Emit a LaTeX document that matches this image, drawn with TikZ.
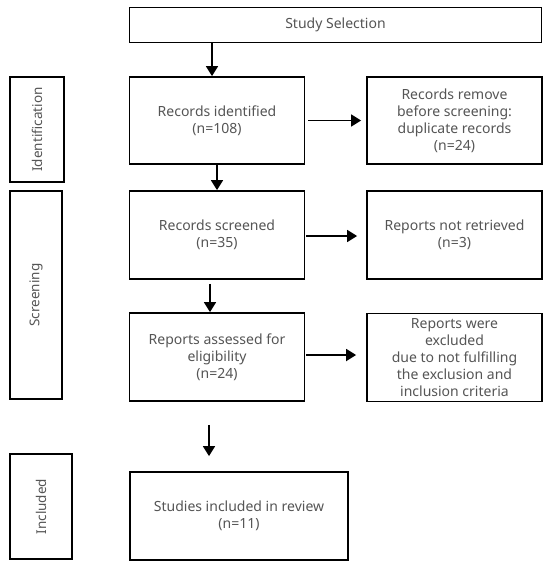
\documentclass[tikz,border=0pt]{standalone}
\usepackage{fontspec}
\setmainfont{Noto Sans}
\usetikzlibrary{arrows.meta,calc}
\definecolor{txt}{RGB}{85,85,85}
\tikzset{
  box/.style={draw=black, line width=1.8pt, fill=white, inner sep=1pt, align=center,
    text=txt, font=\fontsize{14}{17}\selectfont},
  side/.style={draw=black, line width=1.8pt, fill=white, inner sep=0pt},
  sidetext/.style={text=txt, font=\fontsize{13.5}{15}\selectfont, rotate=90},
  arr/.style={line width=1.8pt, -{Triangle[width=12pt,length=10pt]}},
}
\begin{document}
\begin{tikzpicture}[x=1pt,y=-1pt]
\useasboundingbox (0,0) rectangle (550,568);
\node[box, minimum width=412pt, minimum height=35pt] (study) at (335.5,25) {Study Selection};
\node[box, minimum width=175pt, minimum height=87pt] (rid) at (217,120.5) {Records identified\\(n=108)};
\node[box, minimum width=175pt, minimum height=87pt] (rrem) at (454.5,120.5) {Records remove\\before screening:\\duplicate records\\(n=24)};
\node[side, minimum width=54pt, minimum height=105pt] (ident) at (37,129.5) {};
\node[sidetext] (identl) at (ident.center) {Identification};
\node[box, minimum width=175pt, minimum height=88pt] (rscr) at (217,235) {Records screened\\(n=35)};
\node[box, minimum width=175pt, minimum height=88pt] (rnr) at (454.5,235) {Reports not retrieved\\(n=3)};
\node[side, minimum width=52pt, minimum height=208pt] (scr) at (36,295) {};
\node[sidetext] (scrl) at (scr.center) {Screening};
\node[box, minimum width=175pt, minimum height=88pt] (rass) at (217,357) {Reports assessed for\\eligibility\\(n=24)};
\node[box, minimum width=175pt, minimum height=88pt, inner sep=0pt] (rexc) at (454.5,357.5) {Reports were\\excluded\\due to not fulfilling\\the exclusion and\\inclusion criteria};
\node[side, minimum width=62pt, minimum height=105pt] (incl) at (41,506.5) {};
\node[sidetext] (incll) at (incl.center) {Included};
\node[box, minimum width=218pt, minimum height=88pt] (sinc) at (239,516) {Studies included in review\\(n=11)};
\draw[arr] ([xshift=-5pt]rid.north |- study.south) -- ([xshift=-5pt]rid.north);
\draw[arr, shorten <=3pt, shorten >=5pt] (rid.east) -- (rrem.west);
\draw[arr] (rid.south) -- (rscr.north);
\draw[arr, shorten <=1pt, shorten >=9pt] ([yshift=-1pt]rscr.east) -- ([yshift=-1pt]rscr.east -| rnr.west);
\draw[arr, shorten <=4pt] ([xshift=-7pt]rscr.south) -- ([xshift=-7pt]rass.north);
\draw[arr, shorten <=1pt, shorten >=10pt] ([yshift=2pt]rass.east) -- ([yshift=2pt]rass.east -| rexc.west);
\draw[arr, shorten <=23pt, shorten >=15pt] ([xshift=-8pt]rass.south) -- ([xshift=-8pt]rass.south |- sinc.north);
\end{tikzpicture}
\end{document}
